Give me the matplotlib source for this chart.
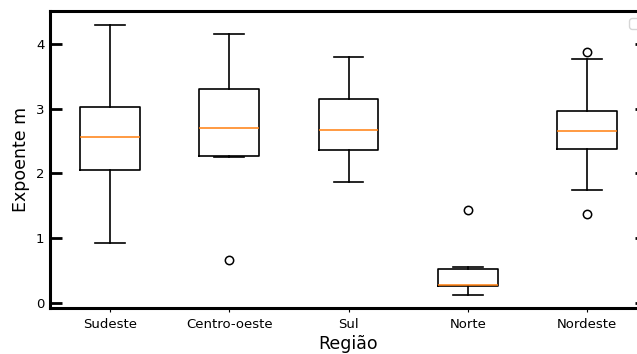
import matplotlib
matplotlib.use("Agg")
import matplotlib.pyplot as plt

categories = ["Sudeste", "Centro-oeste", "Sul", "Norte", "Nordeste"]
whislo = [0.92, 2.25, 1.87, 0.13, 1.74]
q1 = [2.06, 2.27, 2.36, 0.26, 2.38]
med = [2.57, 2.70, 2.67, 0.27, 2.66]
q3 = [3.02, 3.31, 3.15, 0.53, 2.97]
whishi = [4.30, 4.16, 3.80, 0.55, 3.76]
fliers = [[], [0.67], [], [1.43], [3.88, 1.38]]

stats = []
for i, name in enumerate(categories):
    stats.append(dict(label=name, whislo=whislo[i], q1=q1[i], med=med[i],
                      q3=q3[i], whishi=whishi[i], fliers=fliers[i]))

fig = plt.figure(figsize=(6.37, 3.54), dpi=100)
ax = fig.add_axes([50 / 637, 46 / 354, 597 / 637, 297 / 354])
lw = 1.2
ax.bxp(stats, positions=range(1, 6), widths=0.5,
       boxprops=dict(linewidth=lw), whiskerprops=dict(linewidth=lw),
       capprops=dict(linewidth=lw), medianprops=dict(linewidth=1.1, color="#ff7f0e"),
       flierprops=dict(markeredgewidth=1.1))

for s in ax.spines.values():
    s.set_linewidth(2.2)

ax.tick_params(axis="y", direction="in", length=8.5, width=2.0,
               left=True, right=True, labelsize=9.5, pad=4)
ax.tick_params(axis="x", direction="out", length=3, width=0.8,
               labelsize=9.5, pad=4)
ax.set_xlabel("Região", fontsize=12.5, labelpad=3)
ax.set_ylabel("Expoente m", fontsize=12.5)
ax.legend(handles=[], loc="upper right")

fig.savefig("out.png", dpi=100)
